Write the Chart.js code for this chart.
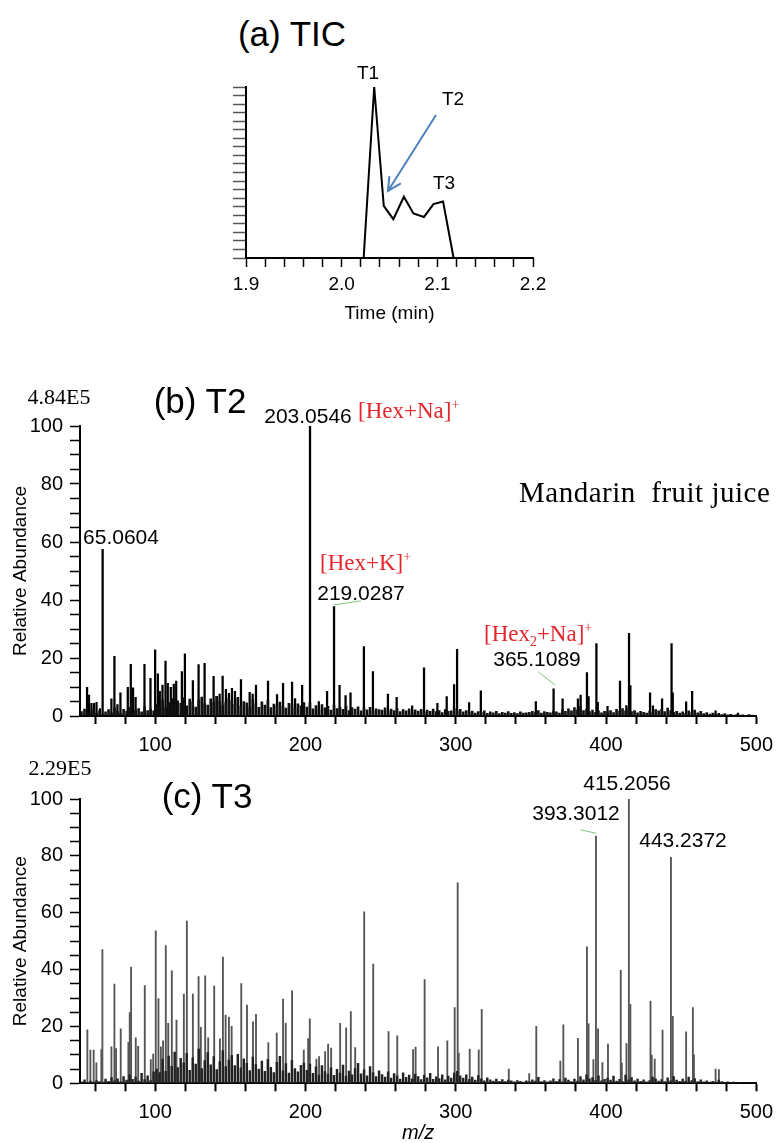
<!DOCTYPE html>
<html>
<head>
<meta charset="utf-8">
<script src="https://cdn.jsdelivr.net/npm/chart.js@4.4.1/dist/chart.umd.min.js"></script>
<style>
  body { margin: 0; background: #fff; width: 782px; height: 1143px; position: relative; overflow: hidden;
         font-family: "Liberation Sans", Arial, sans-serif; }
  canvas { position: absolute; }
  .lbl { position: absolute; transform: translate(-50%, -50%); line-height: 1; white-space: nowrap; color: #000; }
  .left { transform: translate(0, -50%); }
  .serif { font-family: "Liberation Serif", "Times New Roman", serif; }
  .red { color: #e4262c; }
  sup, sub { font-size: 0.6em; line-height: 0; }
</style>
</head>
<body>
<canvas id="tic" width="360" height="265" style="left:200px;top:60px"></canvas>
<canvas id="specT2" width="782" height="360" style="left:0;top:400px"></canvas>
<canvas id="specT3" width="782" height="363" style="left:0;top:780px"></canvas>

<div class="lbl" style="left:292px;top:33px;font-size:35px">(a) TIC</div>
<div class="lbl" style="left:368px;top:72px;font-size:19px">T1</div>
<div class="lbl" style="left:453px;top:98px;font-size:19px">T2</div>
<div class="lbl" style="left:444px;top:182px;font-size:19px">T3</div>

<div class="lbl serif" style="left:59px;top:397px;font-size:22px">4.84E5</div>
<div class="lbl" style="left:200px;top:400px;font-size:35px">(b) T2</div>
<div class="lbl" style="left:308px;top:415px;font-size:21px">203.0546</div>
<div class="lbl left serif red" style="left:358px;top:410px;font-size:23px">[Hex+Na]<sup>+</sup></div>
<div class="lbl left serif" style="left:519px;top:492px;font-size:29px;letter-spacing:0.5px">Mandarin&nbsp; fruit juice</div>
<div class="lbl" style="left:121px;top:536px;font-size:21px">65.0604</div>
<div class="lbl left serif red" style="left:320px;top:562px;font-size:23px">[Hex+K]<sup>+</sup></div>
<div class="lbl" style="left:361px;top:592px;font-size:21px">219.0287</div>
<div class="lbl left serif red" style="left:484px;top:633px;font-size:23px">[Hex<sub>2</sub>+Na]<sup>+</sup></div>
<div class="lbl" style="left:537px;top:658px;font-size:21px">365.1089</div>

<div class="lbl serif" style="left:60px;top:768px;font-size:22px">2.29E5</div>
<div class="lbl" style="left:207px;top:795px;font-size:35px">(c) T3</div>
<div class="lbl" style="left:627px;top:782px;font-size:21px">415.2056</div>
<div class="lbl" style="left:576px;top:812px;font-size:21px">393.3012</div>
<div class="lbl" style="left:683px;top:839px;font-size:21px">443.2372</div>

<script>
// TIC trace (time in min, relative signal)
const ticTime = [1.9, 2.023, 2.034, 2.044, 2.054, 2.065, 2.075, 2.086, 2.096, 2.106, 2.117, 2.2];
const ticSignal = [0, 0, 100, 30.5, 22.7, 35.8, 26, 24, 31.5, 33, 0, 0];
const ticTickLabels = ['1.9', '2.0', '2.1', '2.2'];

// tick labels of the two spectra
const mzTickLabels = [100, 200, 300, 400, 500];
const abundTickLabels = [0, 20, 40, 60, 80, 100];

// (b) T2 spectrum, labelled and visible peaks
const t2PeakMz = [54.7, 56, 57.6, 59.3, 61, 63.3, 65.06, 70.9, 72.9, 74.9, 76.9, 81.8, 83.8, 85.3, 87, 92.9, 96.9,
  100, 101.8, 103.1, 104.9, 106.9, 108.4, 110.4, 112.4, 114, 117.8, 119.8, 125.1, 128.9, 132.9, 138.9, 140.9,
  142.9, 144.9, 147.1, 149.1, 151.1, 153.1, 155.1, 157.1, 162.9, 164.9, 167.1, 175.1, 181.1, 185.1, 191.1, 193.1,
  197.8, 203.05, 208.9, 214.4, 219.03, 222.7, 226.7, 230, 238.9, 244.9, 254.9, 260.7, 271, 278.9, 287.8, 294,
  298.9, 300.9, 308.9, 316.7, 353.3, 365.11, 371.1, 381.3, 383.1, 387.3, 388.4, 393.6, 394.5, 401, 409.3, 413.5,
  415.3, 416.2, 429.3, 431.2, 437.3, 443.6, 444.4, 453.3, 457.3, 472.9, 487.8];
const t2PeakAbund = [9.9, 7.2, 4.4, 4.4, 4.7, 2.6, 57.5, 5.9, 20.6, 3.9, 8, 9.9, 17.8, 9.7, 6.4, 17.8, 13,
  22.8, 14.5, 8.5, 10.7, 18.9, 11.3, 9.9, 11, 12, 15.3, 21.4, 12.2, 17.7, 18.2, 13.7, 6.8,
  7.6, 13.8, 9.2, 7.8, 9.5, 8.5, 6.4, 12.6, 8.2, 7.6, 10.7, 12, 7.4, 11.3, 11.7, 6,
  10.6, 100, 5, 8.5, 37.7, 10.6, 7, 8, 23.9, 15.3, 7.6, 6.4, 3.5, 16.6, 4.4, 6.7,
  10.8, 23, 4.6, 8.7, 5, 9.4, 5.9, 5.9, 7.2, 15, 6.7, 25, 4.7, 3.3, 12, 3.6,
  28.5, 10.5, 8, 3.5, 5.9, 25, 8, 4.9, 8.5, 1.8, 1];
// (b) background level, one value every 2 m/z from 51
const t2NoiseAbund = [
  1.5, 2.4, 1.2, 0.8, 2.1, 1.0, 1.8, 0.6, 1.4, 2.2, 1.1, 2.8, 1.6, 0.9, 2.3, 1.7, 3.0, 1.2, 2.0, 2.6, 1.4, 3.2, 1.9, 2.5, 1.8,
  4.1, 3.2, 5.5, 2.8, 4.6, 6.0, 3.7, 5.2, 4.4, 6.3, 3.5, 5.8, 4.9, 3.1, 5.6, 6.5, 4.2, 3.8, 5.9, 4.7, 6.8, 5.1, 3.6, 4.8, 6.1,
  5.3, 4.0, 6.2, 3.4, 5.0, 4.5, 3.2, 5.7, 4.3, 3.0, 4.9, 3.8, 5.4, 2.9, 4.1, 3.6, 4.8, 3.3, 2.7, 4.4, 3.9, 2.6, 4.2, 3.5, 4.6,
  3.1, 4.5, 2.5, 3.6, 2.2, 3.9, 2.8, 3.3, 2.0, 3.7, 2.6, 3.0, 2.3, 3.4, 1.9, 2.9, 2.4, 3.2, 1.8, 2.7, 2.1, 3.0, 1.7, 2.5, 2.2,
  2.0, 2.8, 1.6, 2.4, 1.9, 2.6, 1.5, 2.2, 1.8, 2.5, 1.4, 2.1, 1.7, 2.3, 1.3, 2.0, 1.6, 2.4, 1.5, 1.9, 1.2, 2.2, 1.6, 1.8, 2.5,
  1.8, 2.3, 1.4, 1.9, 1.2, 1.7, 1.0, 1.5, 1.3, 1.8, 0.9, 1.4, 1.1, 1.6, 0.8, 1.3, 1.0, 1.5, 0.9, 1.2, 0.8, 1.4, 1.0, 1.1, 1.3,
  1.6, 1.2, 1.9, 1.0, 1.5, 1.3, 1.1, 1.7, 1.4, 1.0, 2.2, 1.6, 2.5, 1.8, 2.9, 2.1, 3.3, 1.9, 2.4, 1.5, 2.0, 1.3, 1.8, 1.1, 1.6,
  1.4, 1.9, 1.2, 2.3, 1.6, 2.6, 1.8, 2.8, 1.5, 1.9, 1.1, 1.6, 1.3, 1.0, 1.7, 1.2, 2.2, 1.8, 2.4, 1.5, 2.7, 1.9, 1.3, 1.6, 1.0,
  1.4, 0.9, 1.8, 1.2, 2.0, 1.1, 1.6, 0.8, 1.2, 0.7, 1.0, 0.6, 0.9, 0.5, 0.8, 0.4, 0.6, 0.3, 0.5, 0.3, 0.4, 0.2, 0.5, 0.3, 0.2];

// (c) T3 spectrum
const t3PeakMz = [54.9, 56.9, 59.1, 60.9, 64.2, 64.9, 70.9, 72.9, 74, 77.1, 82.2, 83.1, 84, 87.1, 88.7, 93.1, 97.1,
  98.7, 100.4, 102.2, 103.8, 105.3, 107.1, 108.7, 111.1, 114.2, 119.1, 121.1, 125.1, 128.9, 130.4, 133.3, 135.3,
  139.3, 143.1, 145.1, 146.9, 149.1, 150.9, 157.3, 161.1, 165.1, 167.1, 175.3, 180.9, 185.1, 186.9, 191.1, 198.9,
  201.8, 202.9, 207.3, 209.1, 213.1, 215.1, 217.1, 223.1, 227.1, 230.2, 233.1, 239.1, 245.1, 255.3, 261.1, 271.6,
  273.3, 279.3, 288.2, 294.4, 299.3, 301.3, 302, 309.3, 315.3, 317.3, 335.3, 348.9, 353.6, 369.6, 371.6, 381.3,
  387.3, 388.4, 391.6, 393.3, 394.7, 397.6, 401.3, 409.8, 410.5, 413.6, 415.2, 416.2, 429.6, 430.4, 432.4, 437.6,
  443.2, 444.4, 453.3, 457.8, 458.5, 472.9, 475.1];
const t3PeakAbund = [18.8, 11.7, 11.7, 7.2, 11.9, 47, 12.8, 34.9, 12.2, 19.2, 14.4, 24.9, 40.9, 16, 13, 34.4, 8.3,
  10.3, 53.6, 29.8, 12.8, 14.9, 48.4, 21.1, 39.6, 22.2, 31.4, 57.1, 31.4, 37.5, 19.7, 37.8, 16,
  34.2, 15.6, 44.4, 24, 23.3, 20, 35.1, 27.5, 21.6, 24.3, 14.3, 17.7, 29.6, 21.2, 32.5, 11.7,
  15.7, 22.7, 8.5, 9.4, 11.2, 13.8, 12.4, 21.1, 19.5, 25.2, 12.6, 60.3, 41.9, 18.2, 16.7, 11.9,
  12.7, 36.5, 12.8, 14.9, 26.6, 70.5, 10.5, 12, 11.8, 26, 5, 3.4, 20, 7.8, 20.6, 15.8,
  48, 20.9, 8.3, 87, 19.2, 7.3, 13.8, 39.7, 7.1, 14, 100, 27.8, 28.9, 9.9, 8.5, 18.7,
  79.5, 23.6, 18.1, 26.6, 10, 5, 4.8];
const t3NoiseAbund = [
  0.5, 1.2, 0.3, 0.8, 0.4, 1.0, 0.6, 0.3, 1.5, 0.7, 2.0, 0.9, 1.6, 0.5, 2.4, 1.1, 3.0, 1.4, 2.2, 0.8, 3.5, 1.3, 2.6, 1.0, 4.0,
  5.0, 3.8, 8.5, 4.2, 9.6, 6.0, 11.0, 5.5, 8.8, 7.2, 10.5, 4.6, 9.0, 6.8, 12.0, 5.2, 8.0, 10.8, 6.5, 9.4, 4.8, 7.6, 11.5, 5.9, 8.2,
  9.8, 6.2, 10.2, 5.4, 8.6, 7.0, 4.5, 9.2, 6.6, 5.0, 7.8, 4.2, 8.4, 5.6, 3.8, 7.4, 9.5, 4.4, 6.9, 3.6, 8.1, 5.2, 4.0, 6.3, 7.1,
  4.6, 6.8, 3.5, 5.8, 2.9, 6.2, 4.1, 3.2, 5.4, 2.8, 4.9, 3.6, 6.4, 2.5, 4.3, 3.0, 5.2, 7.0, 3.3, 4.7, 2.6, 5.9, 3.8, 2.4, 4.4,
  3.1, 2.2, 4.0, 1.8, 3.4, 2.6, 1.5, 3.7, 2.1, 2.9, 1.6, 3.2, 2.4, 1.3, 2.8, 1.9, 3.5, 1.4, 2.3, 1.7, 3.0, 1.2, 2.5, 1.8, 3.6,
  4.2, 2.6, 1.8, 3.0, 1.4, 2.2, 1.1, 2.7, 1.6, 0.9, 1.9, 1.2, 0.8, 1.5, 0.7, 1.3, 0.6, 1.1, 0.9, 0.5, 1.0, 0.7, 0.4, 0.9, 0.6,
  1.2, 0.8, 2.1, 0.6, 1.0, 0.5, 0.9, 1.6, 0.7, 1.3, 0.5, 1.8, 1.1, 0.6, 1.5, 0.8, 2.4, 1.2, 3.0, 1.6, 2.0, 1.0, 2.6, 0.9, 1.4,
  1.8, 1.1, 2.5, 0.8, 1.4, 0.6, 2.9, 1.2, 2.0, 0.9, 1.5, 0.7, 1.2, 0.5, 1.0, 2.2, 1.6, 0.8, 1.3, 0.6, 1.9, 0.9, 2.4, 1.1, 0.7,
  1.5, 0.8, 2.2, 1.0, 1.7, 0.6, 1.2, 0.5, 0.9, 0.4, 0.7, 0.4, 1.1, 0.6, 0.3, 0.5, 0.3, 0.4, 0.2, 0.3, 0.2, 0.3, 0.2, 0.1, 0.2];
const noiseMzStart = 51, noiseMzStep = 2;

Chart.defaults.font.family = '"Liberation Sans", Arial, sans-serif';
Chart.defaults.color = '#000';

function pts(xs, ys) { return xs.map((x, i) => ({ x: x, y: ys[i] })); }
function noisePts(ys) { return ys.map((y, i) => ({ x: noiseMzStart + i * noiseMzStep, y: y })); }

// arrows and leader lines, given in data units
function notes(lines) {
  return {
    id: 'notes',
    afterDatasetsDraw(chart) {
      const ctx = chart.ctx, xs = chart.scales.x, ys = chart.scales.y;
      lines.forEach(l => {
        const x0 = xs.getPixelForValue(l.from[0]), y0 = ys.getPixelForValue(l.from[1]);
        const x1 = xs.getPixelForValue(l.to[0]), y1 = ys.getPixelForValue(l.to[1]);
        ctx.save();
        ctx.strokeStyle = l.color;
        ctx.lineWidth = l.width;
        ctx.beginPath();
        ctx.moveTo(x0, y0);
        ctx.lineTo(x1, y1);
        if (l.arrow) {
          const a = Math.atan2(y0 - y1, x0 - x1), d = 0.47;
          ctx.moveTo(x1 + 15 * Math.cos(a - d), y1 + 15 * Math.sin(a - d));
          ctx.lineTo(x1, y1);
          ctx.lineTo(x1 + 15 * Math.cos(a + d), y1 + 15 * Math.sin(a + d));
        }
        ctx.stroke();
        ctx.restore();
      });
    }
  };
}

new Chart(document.getElementById('tic'), {
  type: 'line',
  data: {
    datasets: [{
      data: pts(ticTime, ticSignal),
      borderColor: '#000',
      borderWidth: 2,
      pointRadius: 0,
      tension: 0
    }]
  },
  options: {
    responsive: false,
    animation: false,
    layout: { padding: { top: 27, right: 27, left: 0, bottom: 0 } },
    plugins: { legend: { display: false }, tooltip: { enabled: false } },
    scales: {
      x: {
        type: 'linear', min: 1.9, max: 2.2,
        afterFit: s => { s.height = 67; },
        ticks: {
          stepSize: 0.02, autoSkip: false, maxRotation: 0, padding: 6, font: { size: 19 },
          callback: v => { const t = v.toFixed(1); return ticTickLabels.includes(t) && Math.abs(v - t) < 1e-6 ? t : ''; }
        },
        grid: { drawOnChartArea: false, tickLength: 9, tickColor: '#000', tickWidth: 1.5 },
        border: { color: '#000', width: 2 },
        title: { display: true, text: 'Time (min)', font: { size: 19 }, padding: { top: 5, bottom: 0 } }
      },
      y: {
        min: 0, max: 100,
        afterFit: s => { s.width = 46; },
        ticks: { stepSize: 5, autoSkip: false, callback: () => '' },
        grid: { drawOnChartArea: false, tickLength: 13, tickColor: '#555', tickWidth: 1.5 },
        border: { color: '#000', width: 2 }
      }
    }
  },
  plugins: [notes([{ from: [2.0986, 83.6], to: [2.0484, 39.2], color: '#4f81bd', width: 2, arrow: true }])]
});

function spectrum(id, peakMz, peakAbund, noiseAbund, opt) {
  return new Chart(document.getElementById(id), {
    type: 'bar',
    data: {
      datasets: [
        { data: noisePts(noiseAbund), backgroundColor: opt.noiseColor, barThickness: opt.noiseThick, grouped: false },
        { data: pts(peakMz, peakAbund), backgroundColor: opt.peakColor, barThickness: opt.thick, grouped: false }
      ]
    },
    options: {
      responsive: false,
      animation: false,
      layout: { padding: { top: opt.padTop, right: 25, left: 0, bottom: 0 } },
      plugins: { legend: { display: false }, tooltip: { enabled: false } },
      scales: {
        x: {
          type: 'linear', min: 50, max: 500, offset: false,
          afterFit: s => { s.height = opt.xHeight; },
          ticks: {
            stepSize: 20, includeBounds: false, autoSkip: false, maxRotation: 0, padding: 9, font: { size: 20 },
            callback: v => mzTickLabels.includes(v) ? String(v) : ''
          },
          grid: { offset: false, drawOnChartArea: false, tickLength: 8, tickColor: '#000', tickWidth: 2 },
          border: { color: '#000', width: 2 },
          title: opt.xTitle
            ? { display: true, text: 'm/z', font: { size: 20, style: 'italic', lineHeight: 1 }, padding: { top: 0, bottom: 0 } }
            : { display: false }
        },
        y: {
          min: 0, max: 100,
          afterFit: s => { s.width = 80; },
          ticks: {
            stepSize: 5, autoSkip: false, padding: 7, font: { size: 20 },
            callback: v => abundTickLabels.includes(v) ? String(v) : ''
          },
          grid: { drawOnChartArea: false, tickLength: 10, tickColor: '#000', tickWidth: 1.5 },
          border: { color: '#000', width: 2 },
          title: { display: true, text: 'Relative Abundance', font: { size: 19 }, padding: { top: 9, bottom: 0 } }
        }
      }
    },
    plugins: [notes(opt.lines)]
  });
}

spectrum('specT2', t2PeakMz, t2PeakAbund, t2NoiseAbund, {
  noiseColor: '#111', peakColor: '#000', thick: 1.6, noiseThick: 2, padTop: 26, xHeight: 44, xTitle: false,
  lines: [
    { from: [218.9, 38.3], to: [236.9, 39.7], color: '#7cc47c', width: 1 },
    { from: [354.9, 15.2], to: [366.2, 10.7], color: '#7cc47c', width: 1 }
  ]
});

spectrum('specT3', t3PeakMz, t3PeakAbund, t3NoiseAbund, {
  noiseColor: '#222', peakColor: '#555', thick: 1.2, noiseThick: 1.8, padTop: 12.7, xHeight: 59.7, xTitle: true,
  lines: [
    { from: [382.9, 89.2], to: [393.6, 87.9], color: '#7cc47c', width: 1 }
  ]
});
</script>
</body>
</html>
